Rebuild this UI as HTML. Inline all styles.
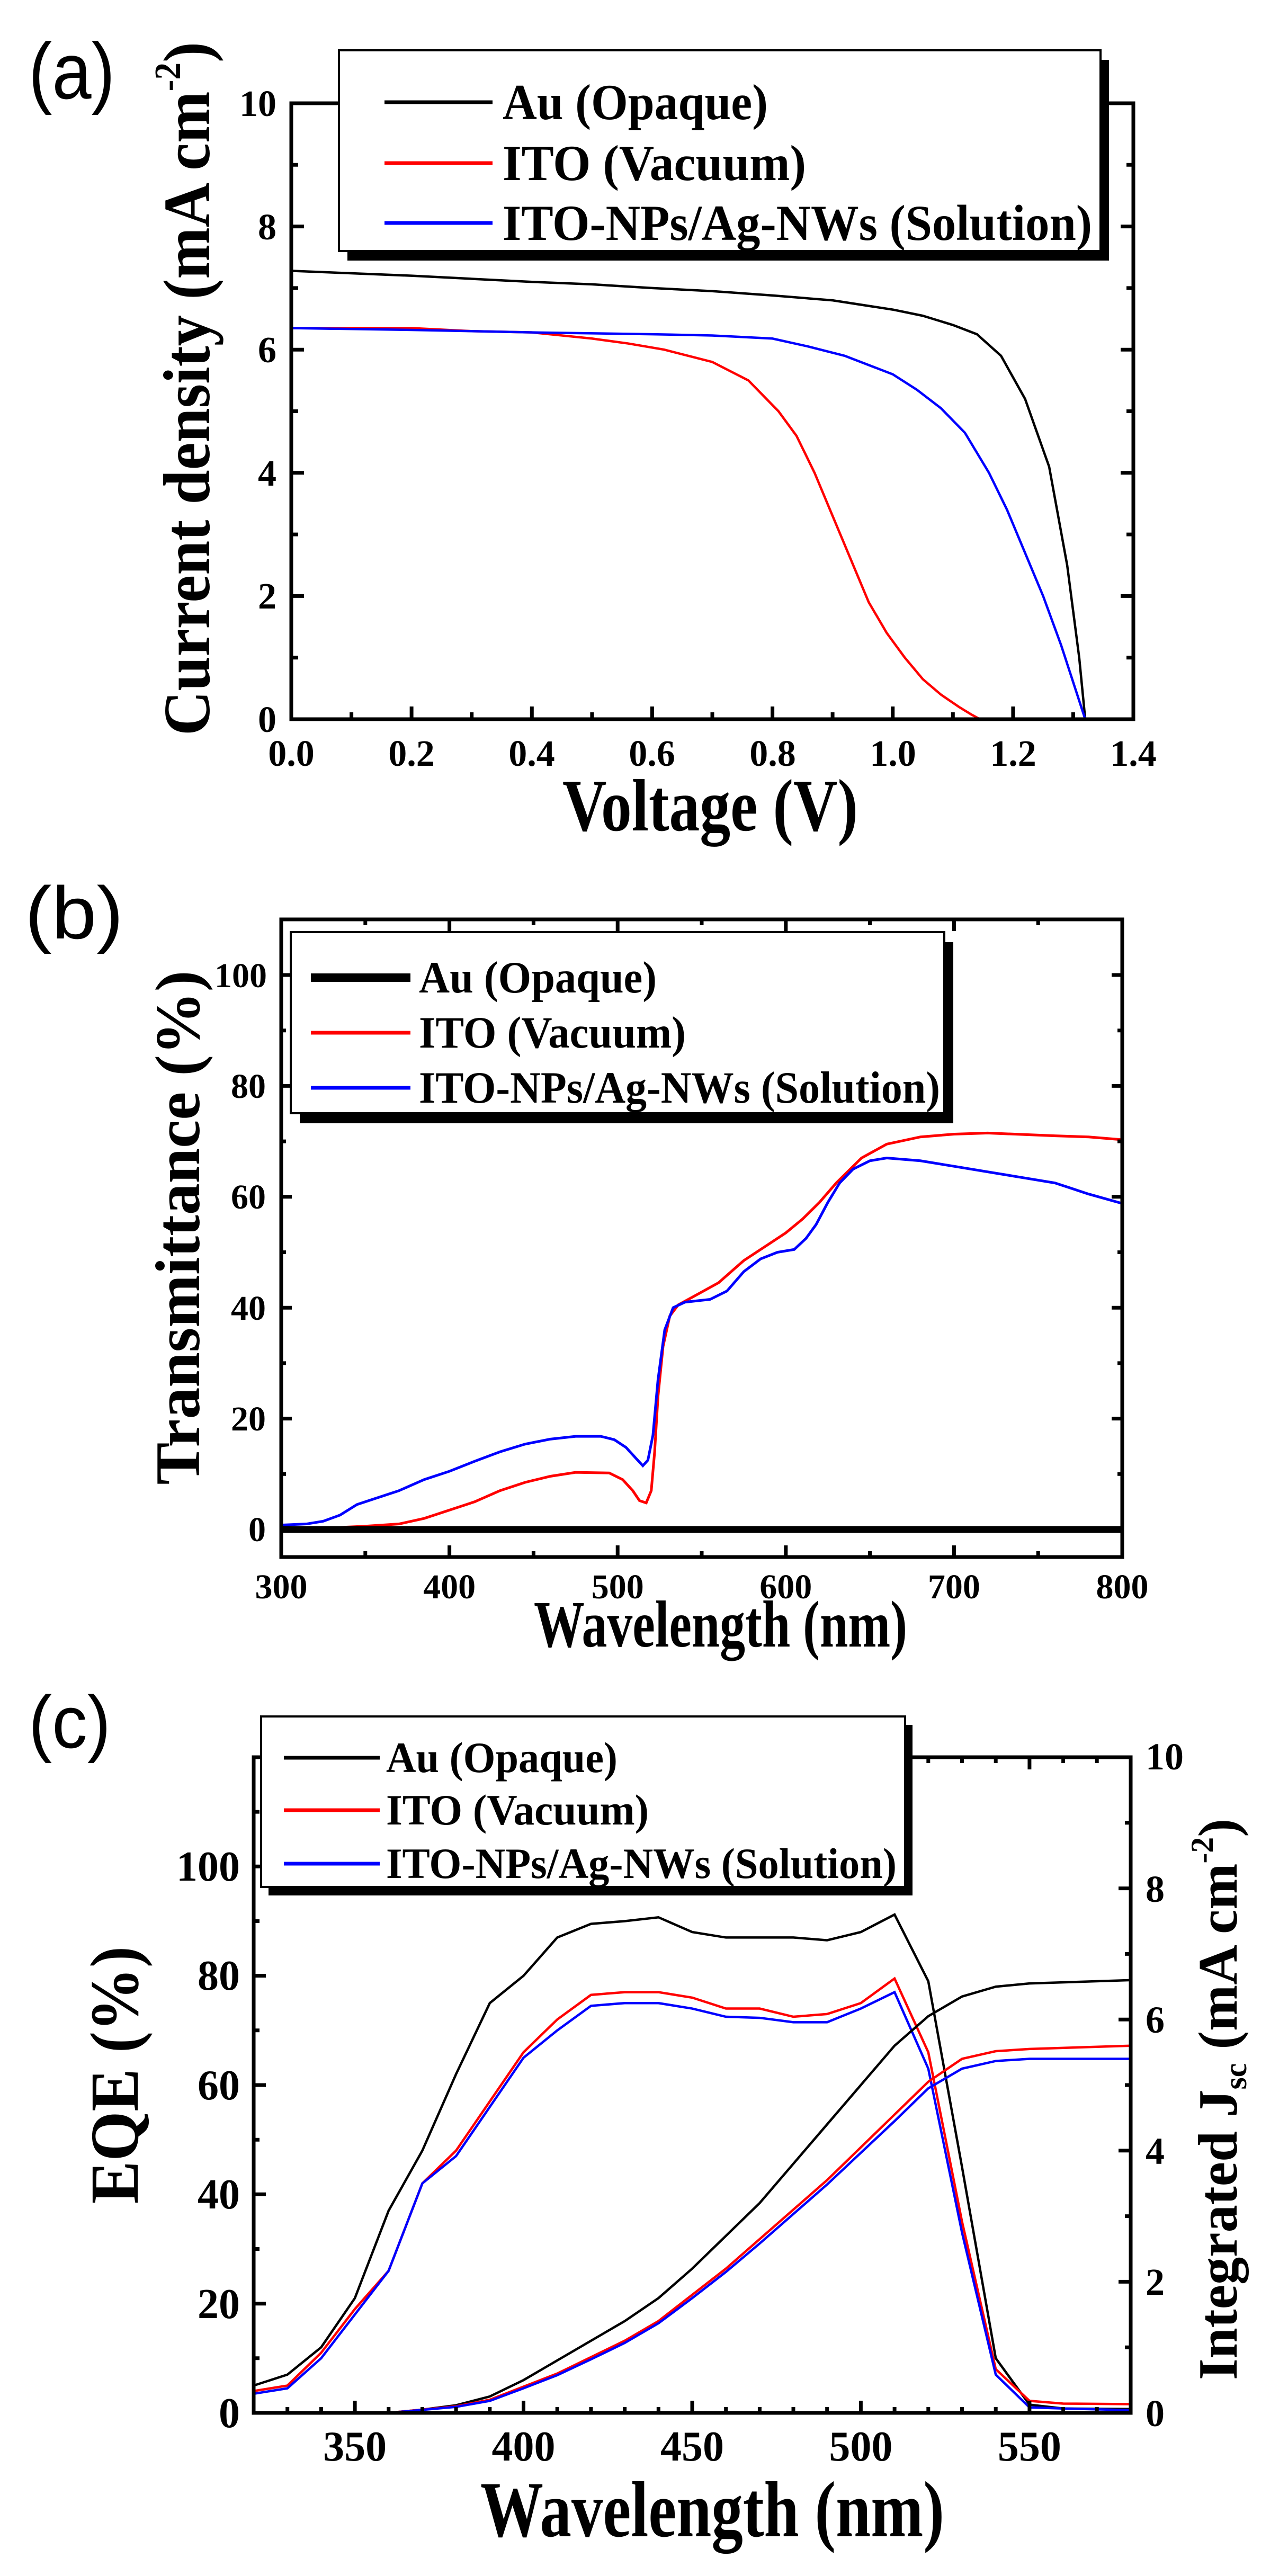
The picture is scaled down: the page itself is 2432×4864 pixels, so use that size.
<!DOCTYPE html>
<html><head><meta charset="utf-8"><style>
html,body{margin:0;padding:0;background:#fff;}
svg{display:block;}
text{font-family:"Liberation Serif",serif;font-weight:bold;fill:#000;}
.lab{font-family:"Liberation Sans",sans-serif;font-weight:normal;}
</style></head><body>
<svg width="2432" height="4864" viewBox="0 0 2432 4864" xmlns="http://www.w3.org/2000/svg">
<rect width="2432" height="4864" fill="#fff"/>

<!-- ================= PANEL A ================= -->
<text class="lab" x="54" y="186" font-size="150" textLength="163" lengthAdjust="spacingAndGlyphs">(a)</text>
<g fill="none" stroke="#000" stroke-width="4.5" vector-effect="non-scaling-stroke">
<g transform="translate(550 1358) scale(1135.7 -116.3)">
<polyline vector-effect="non-scaling-stroke" stroke="#000" points="0,7.28 0.1,7.24 0.2,7.2 0.3,7.15 0.4,7.1 0.5,7.06 0.6,7.0 0.7,6.95 0.8,6.88 0.9,6.8 1.0,6.65 1.05,6.55 1.1,6.4 1.14,6.25 1.18,5.9 1.22,5.2 1.26,4.1 1.29,2.5 1.31,1.0 1.32,0"/>
<polyline vector-effect="non-scaling-stroke" stroke="#ff0000" points="0,6.35 0.2,6.35 0.3,6.3 0.4,6.28 0.5,6.18 0.56,6.1 0.62,6.0 0.7,5.8 0.76,5.5 0.81,5.0 0.84,4.6 0.87,4.0 0.9,3.3 0.93,2.6 0.96,1.9 0.99,1.4 1.02,1.0 1.05,0.65 1.08,0.4 1.11,0.2 1.13,0.08 1.145,0"/>
<polyline vector-effect="non-scaling-stroke" stroke="#0000ff" points="0,6.35 0.2,6.32 0.4,6.28 0.6,6.25 0.7,6.23 0.8,6.18 0.86,6.05 0.92,5.9 1.0,5.6 1.04,5.35 1.08,5.05 1.12,4.65 1.16,4.0 1.19,3.4 1.22,2.7 1.25,2.0 1.28,1.2 1.3,0.6 1.32,0"/>
</g>
</g>
<rect x="550" y="195" width="1590" height="1163" fill="none" stroke="#000" stroke-width="7"/>
<path fill="none" stroke="#000" stroke-width="7" d="M663.6 1358v-13M777.1 1358v-24M890.7 1358v-13M1004.3 1358v-24M1117.9 1358v-13M1231.4 1358v-24M1345 1358v-13M1458.6 1358v-24M1572.1 1358v-13M1685.7 1358v-24M1799.3 1358v-13M1912.9 1358v-24M2026.4 1358v-13
M663.6 195v13M777.1 195v24M890.7 195v13M1004.3 195v24M1117.9 195v13M1231.4 195v24M1345 195v13M1458.6 195v24M1572.1 195v13M1685.7 195v24M1799.3 195v13M1912.9 195v24M2026.4 195v13
M550 1241.7h13M550 1125.4h24M550 1009.1h13M550 892.8h24M550 776.5h13M550 660.2h24M550 543.9h13M550 427.6h24M550 311.3h13
M2140 1241.7h-13M2140 1125.4h-24M2140 1009.1h-13M2140 892.8h-24M2140 776.5h-13M2140 660.2h-24M2140 543.9h-13M2140 427.6h-24M2140 311.3h-13"/>
<g font-size="70" text-anchor="middle">
<text x="550" y="1446">0.0</text><text x="777" y="1446">0.2</text><text x="1004" y="1446">0.4</text><text x="1231" y="1446">0.6</text><text x="1459" y="1446">0.8</text><text x="1686" y="1446">1.0</text><text x="1913" y="1446">1.2</text><text x="2140" y="1446">1.4</text>
</g>
<g font-size="70" text-anchor="end">
<text x="522" y="1382">0</text><text x="522" y="1149">2</text><text x="522" y="917">4</text><text x="522" y="684">6</text><text x="522" y="452">8</text><text x="522" y="219">10</text>
</g>
<text x="1062" y="1568" font-size="140" textLength="558" lengthAdjust="spacingAndGlyphs">Voltage (V)</text>
<text transform="translate(395 734) rotate(-90)" text-anchor="middle" font-size="125" textLength="1310" lengthAdjust="spacingAndGlyphs">Current density (mA cm<tspan font-size="70" dy="-55">-2</tspan><tspan dy="55">)</tspan></text>
<!-- legend a -->
<rect x="656" y="113" width="1438" height="379" fill="#000"/>
<rect x="640" y="95" width="1438" height="379" fill="#fff" stroke="#000" stroke-width="4"/>
<path d="M726 193H930" stroke="#000" stroke-width="7"/>
<path d="M726 308H930" stroke="#ff0000" stroke-width="7"/>
<path d="M726 421H930" stroke="#0000ff" stroke-width="7"/>
<g font-size="95">
<text x="949" y="225" textLength="501" lengthAdjust="spacingAndGlyphs">Au (Opaque)</text>
<text x="949" y="340" textLength="573" lengthAdjust="spacingAndGlyphs">ITO (Vacuum)</text>
<text x="949" y="453" textLength="1113" lengthAdjust="spacingAndGlyphs">ITO-NPs/Ag-NWs (Solution)</text>
</g>

<!-- ================= PANEL B ================= -->
<text class="lab" x="47" y="1772" font-size="140" textLength="186" lengthAdjust="spacingAndGlyphs">(b)</text>
<g fill="none" transform="translate(531 2888) scale(3.176 -10.47) translate(-300 0)">
<polyline vector-effect="non-scaling-stroke" stroke="#ff0000" stroke-width="5" points="300,0 330,0.3 350,0.6 370,1 385,2 400,3.5 415,5 430,7 445,8.5 460,9.6 475,10.3 495,10.2 503,9 509,7 513,5.2 517,4.8 520,7 522,14 524,24 527,33 531,38.5 536,40.5 545,42 560,44.5 575,48.5 590,51.5 600,53.5 610,56 620,59 630,62.5 645,67 660,69.5 680,70.8 700,71.3 720,71.5 760,71 780,70.8 800,70.3"/>
<polyline vector-effect="non-scaling-stroke" stroke="#0000ff" stroke-width="5" points="300,0.8 315,1 325,1.5 335,2.6 345,4.5 355,5.5 370,7 385,9 400,10.5 415,12.3 430,14 445,15.4 460,16.3 475,16.8 490,16.8 498,16.2 505,14.8 511,12.8 515,11.5 518,12.5 521,17 524,27 528,36 533,40 540,41 555,41.5 565,43 575,46.5 585,48.8 595,50 605,50.5 612,52.5 618,55 625,59 632,62.5 640,65 650,66.5 660,67 680,66.5 700,65.5 720,64.5 740,63.5 760,62.5 780,60.5 800,58.8"/>
<polyline vector-effect="non-scaling-stroke" stroke="#000" stroke-width="13" points="300,0 800,0"/>
</g>
<rect x="531" y="1736" width="1588" height="1204" fill="none" stroke="#000" stroke-width="7"/>
<path fill="none" stroke="#000" stroke-width="7" d="M689.8 2940v-11M848.6 2940v-22M1007.4 2940v-11M1166.2 2940v-22M1325 2940v-11M1483.8 2940v-22M1642.6 2940v-11M1801.4 2940v-22M1960.2 2940v-11
M689.8 1736v11M848.6 1736v22M1007.4 1736v11M1166.2 1736v22M1325 1736v11M1483.8 1736v22M1642.6 1736v11M1801.4 1736v22M1960.2 1736v11
M531 2888h20M531 2783.3h9M531 2678.6h20M531 2573.9h9M531 2469.2h20M531 2364.5h9M531 2259.8h20M531 2155.1h9M531 2050.4h20M531 1945.7h9M531 1841h20
M2119 2888h-20M2119 2783.3h-9M2119 2678.6h-20M2119 2573.9h-9M2119 2469.2h-20M2119 2364.5h-9M2119 2259.8h-20M2119 2155.1h-9M2119 2050.4h-20M2119 1945.7h-9M2119 1841h-20"/>
<g font-size="66" text-anchor="middle">
<text x="531" y="3018">300</text><text x="848.6" y="3018">400</text><text x="1166.2" y="3018">500</text><text x="1483.8" y="3018">600</text><text x="1801.4" y="3018">700</text><text x="2119" y="3018">800</text>
</g>
<g font-size="66" text-anchor="end">
<text x="502" y="2910">0</text><text x="502" y="2701">20</text><text x="502" y="2492">40</text><text x="502" y="2282">60</text><text x="502" y="2073">80</text><text x="504" y="1864">100</text>
</g>
<text x="1008" y="3109" font-size="125" textLength="705" lengthAdjust="spacingAndGlyphs">Wavelength (nm)</text>
<text transform="translate(376 2318) rotate(-90)" text-anchor="middle" font-size="120" textLength="971" lengthAdjust="spacingAndGlyphs">Transmittance (%)</text>
<!-- legend b -->
<rect x="566" y="1779" width="1234" height="342" fill="#000"/>
<rect x="549" y="1760" width="1234" height="342" fill="#fff" stroke="#000" stroke-width="4"/>
<path d="M587 1846H775" stroke="#000" stroke-width="16"/>
<path d="M587 1950H775" stroke="#ff0000" stroke-width="7"/>
<path d="M587 2054H775" stroke="#0000ff" stroke-width="7"/>
<g font-size="85">
<text x="791" y="1874" textLength="449" lengthAdjust="spacingAndGlyphs">Au (Opaque)</text>
<text x="791" y="1978" textLength="504" lengthAdjust="spacingAndGlyphs">ITO (Vacuum)</text>
<text x="791" y="2082" textLength="984" lengthAdjust="spacingAndGlyphs">ITO-NPs/Ag-NWs (Solution)</text>
</g>

<!-- ================= PANEL C ================= -->
<text class="lab" x="54" y="3300" font-size="140" textLength="155" lengthAdjust="spacingAndGlyphs">(c)</text>
<g fill="none" stroke-width="4.5" transform="translate(479 4556) scale(6.369 -10.317) translate(-320 0)">
<polyline vector-effect="non-scaling-stroke" stroke="#000" points="320,5 330,7 340,12 350,21 360,37 370,48 380,62 390,75 400,80 410,87 420,89.5 430,90 440,90.7 450,88 460,87 470,87 480,87 490,86.5 500,88 510,91.2 520,79 530,45 540,10 550,1.5 560,0.8 580,0.7"/>
<polyline vector-effect="non-scaling-stroke" stroke="#ff0000" points="320,4 330,5 340,11 350,19 360,26 370,42 380,48 390,57 400,66 410,72 420,76.5 430,77 440,77 450,76 460,74 470,74 480,72.5 490,73 500,75 510,79.5 520,66 530,35 540,8 550,2.2 560,1.7 580,1.6"/>
<polyline vector-effect="non-scaling-stroke" stroke="#0000ff" points="320,3.5 330,4.5 340,10 350,18 360,26 370,42 380,47 390,56 400,65 410,70 420,74.5 430,75 440,75 450,74 460,72.5 470,72.3 480,71.5 490,71.5 500,74 510,77 520,63 530,33 540,7 550,1 560,0.8 580,0.5"/>
<polyline vector-effect="non-scaling-stroke" stroke="#000" points="360,0 370,0.6 380,1.4 390,3 400,6 410,9.6 420,13.2 430,16.8 440,21 450,26.4 460,32.4 470,38.4 480,45.6 490,52.8 500,60 510,67.2 520,72.6 530,76.2 540,78 550,78.6 580,79.2"/>
<polyline vector-effect="non-scaling-stroke" stroke="#ff0000" points="360,0 380,1.2 390,2.4 400,4.8 410,7.2 420,10.2 430,13.2 440,16.8 450,21.6 460,26.4 470,31.8 480,37.2 490,42.6 500,48.6 510,54.6 520,60.6 530,64.8 540,66.2 550,66.6 580,67.2"/>
<polyline vector-effect="non-scaling-stroke" stroke="#0000ff" points="360,0 380,1.1 390,2.2 400,4.5 410,6.9 420,9.8 430,12.8 440,16.4 450,21 460,25.8 470,31 480,36.4 490,41.8 500,47.6 510,53.4 520,59.4 530,63 540,64.4 550,64.8 580,64.8"/>
</g>
<rect x="479" y="3318" width="1656" height="1238" fill="none" stroke="#000" stroke-width="7"/>
<path fill="none" stroke="#000" stroke-width="7" d="M542.7 4556v-11M606.4 4556v-11M670.1 4556v-23M733.8 4556v-11M797.5 4556v-11M861.1 4556v-11M924.8 4556v-11M988.5 4556v-23M1052.2 4556v-11M1115.9 4556v-11M1179.6 4556v-11M1243.3 4556v-11M1307 4556v-23M1370.7 4556v-11M1434.4 4556v-11M1498 4556v-11M1561.7 4556v-11M1625.4 4556v-23M1689.1 4556v-11M1752.8 4556v-11M1816.5 4556v-11M1880.2 4556v-11M1943.9 4556v-23M2007.6 4556v-11M2071.2 4556v-11
M542.7 3318v11M606.4 3318v11M670.1 3318v23M733.8 3318v11M797.5 3318v11M861.1 3318v11M924.8 3318v11M988.5 3318v23M1052.2 3318v11M1115.9 3318v11M1179.6 3318v11M1243.3 3318v11M1307 3318v23M1370.7 3318v11M1434.4 3318v11M1498 3318v11M1561.7 3318v11M1625.4 3318v23M1689.1 3318v11M1752.8 3318v11M1816.5 3318v11M1880.2 3318v11M1943.9 3318v23M2007.6 3318v11M2071.2 3318v11
M479 4452.8h11M479 4349.7h23M479 4246.5h11M479 4143.3h23M479 4040.2h11M479 3937h23M479 3833.8h11M479 3730.6h23M479 3627.5h11M479 3524.3h23M479 3421.1h11
M2135 4432.2h-11M2135 4308.4h-23M2135 4184.6h-11M2135 4060.8h-23M2135 3937h-11M2135 3813.2h-23M2135 3689.4h-11M2135 3565.6h-23M2135 3441.8h-11"/>
<g font-size="80" text-anchor="middle">
<text x="670.1" y="4646">350</text><text x="988.5" y="4646">400</text><text x="1307" y="4646">450</text><text x="1625.4" y="4646">500</text><text x="1943.9" y="4646">550</text>
</g>
<g font-size="80" text-anchor="end">
<text x="453" y="4583">0</text><text x="453" y="4377">20</text><text x="453" y="4170">40</text><text x="453" y="3964">60</text><text x="453" y="3757">80</text><text x="453" y="3551">100</text>
</g>
<g font-size="72">
<text x="2163" y="4581">0</text><text x="2163" y="4333">2</text><text x="2163" y="4086">4</text><text x="2163" y="3838">6</text><text x="2163" y="3591">8</text><text x="2163" y="3341">10</text>
</g>
<text x="907" y="4789" font-size="150" textLength="876" lengthAdjust="spacingAndGlyphs">Wavelength (nm)</text>
<text transform="translate(260 3918) rotate(-90)" text-anchor="middle" font-size="130" textLength="486" lengthAdjust="spacingAndGlyphs">EQE (%)</text>
<text transform="translate(2335 3964) rotate(-90)" text-anchor="middle" font-size="105" textLength="1060" lengthAdjust="spacingAndGlyphs">Integrated J<tspan font-size="60" dy="18">sc</tspan><tspan dy="-18"> (mA cm</tspan><tspan font-size="60" dy="-45">-2</tspan><tspan dy="45">)</tspan></text>
<!-- legend c -->
<rect x="507" y="3257" width="1216" height="322" fill="#000"/>
<rect x="493" y="3241" width="1216" height="322" fill="#fff" stroke="#000" stroke-width="4"/>
<path d="M536 3319H717" stroke="#000" stroke-width="7"/>
<path d="M536 3418H717" stroke="#ff0000" stroke-width="7"/>
<path d="M536 3519H717" stroke="#0000ff" stroke-width="7"/>
<g font-size="82">
<text x="729" y="3346" textLength="437" lengthAdjust="spacingAndGlyphs">Au (Opaque)</text>
<text x="729" y="3445" textLength="496" lengthAdjust="spacingAndGlyphs">ITO (Vacuum)</text>
<text x="729" y="3546" textLength="964" lengthAdjust="spacingAndGlyphs">ITO-NPs/Ag-NWs (Solution)</text>
</g>
</svg>
</body></html>
